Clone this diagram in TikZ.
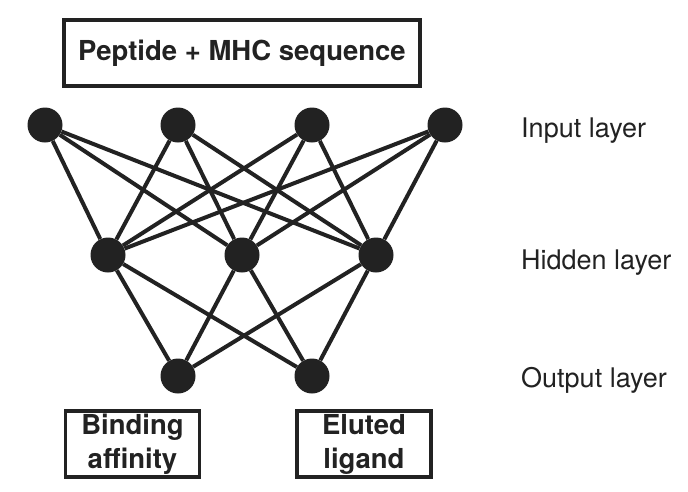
\documentclass[tikz,border=0pt]{standalone}
\usepackage{fontspec}
\setmainfont{TeX Gyre Heros}
\begin{document}
\begin{tikzpicture}[x=1pt,y=-1pt]
\definecolor{ink}{HTML}{222222}
\tikzset{
  neuron/.style={circle,fill=ink,inner sep=0pt,minimum size=35pt},
  conn/.style={draw=ink,line width=4pt},
  labbox/.style={draw=ink,line width=3.5pt,inner sep=0pt,align=center,font=\fontsize{27.5}{34}\selectfont\bfseries,text=ink},
  layerlab/.style={anchor=west,inner sep=0pt,font=\fontsize{27}{30}\selectfont,text=ink}
}
\useasboundingbox (0,0) rectangle (688,491);
\node[labbox,minimum width=356pt,minimum height=66pt] (top) at (242,53) {Peptide + MHC sequence};
\node[neuron] (i1) at (45,125) {};
\node[neuron] (i2) at (178,125) {};
\node[neuron] (i3) at (312,125) {};
\node[neuron] (i4) at (445,125) {};
\node[neuron] (h1) at (108,255) {};
\node[neuron] (h2) at (242,255) {};
\node[neuron] (h3) at (376,255) {};
\node[neuron] (o1) at (178,376) {};
\node[neuron] (o2) at (312,376) {};
\foreach \a in {i1,i2,i3,i4}{\foreach \b in {h1,h2,h3}{\draw[conn] (\a) -- (\b);}}
\foreach \a in {h1,h2,h3}{\foreach \b in {o1,o2}{\draw[conn] (\a) -- (\b);}}
\node[labbox,minimum width=134pt,minimum height=66pt] (ba) at (132.5,444) {Binding\\affinity};
\node[labbox,minimum width=134pt,minimum height=66pt] (el) at (364,444) {Eluted\\ligand};
\node[layerlab] (li) at (521,131) {Input layer};
\node[layerlab] (lh) at (521,262.5) {Hidden layer};
\node[layerlab] (lo) at (521,380) {Output layer};
\end{tikzpicture}
\end{document}
